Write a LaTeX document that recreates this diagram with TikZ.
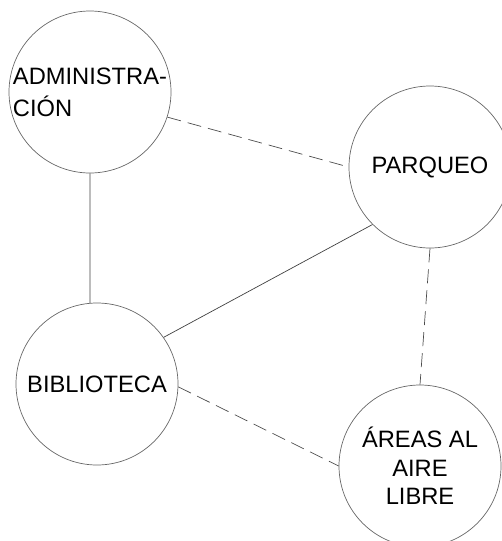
\documentclass[tikz,border=0pt]{standalone}
\usepackage{fontspec}
\setmainfont{Liberation Sans}
\begin{document}
\begin{tikzpicture}[x=1pt,y=-1pt,
  zone/.style={circle,draw=black!60,line width=0.7pt,minimum size=162pt,inner sep=0pt,
    font=\fontsize{23.7}{28.7}\selectfont},
  solidlink/.style={draw=black!75,line width=0.7pt},
  dashlink/.style={draw=black!70,line width=0.7pt,dash pattern=on 14pt off 7pt}]
\useasboundingbox (0,0) rectangle (502,541);
\node[zone,align=left,font=\fontsize{23.7}{32}\selectfont] (admin) at (90,92) {ADMINISTRA-\\CIÓN};
\node[zone] (parq) at (430,167) {PARQUEO};
\node[zone] (bib) at (97,384) {BIBLIOTECA};
\node[zone,align=center] (areas) at (420,466) {ÁREAS AL\\AIRE\\LIBRE};
\draw[dashlink] (admin.-18) -- (parq.180);
\draw[solidlink] (admin.270) -- (bib.95);
\draw[solidlink] (bib.35.5) -- (parq.225.5);
\draw[dashlink] (bib.-2) -- (areas.180);
\draw[dashlink] (parq.270) -- (areas.90);
\end{tikzpicture}
\end{document}
